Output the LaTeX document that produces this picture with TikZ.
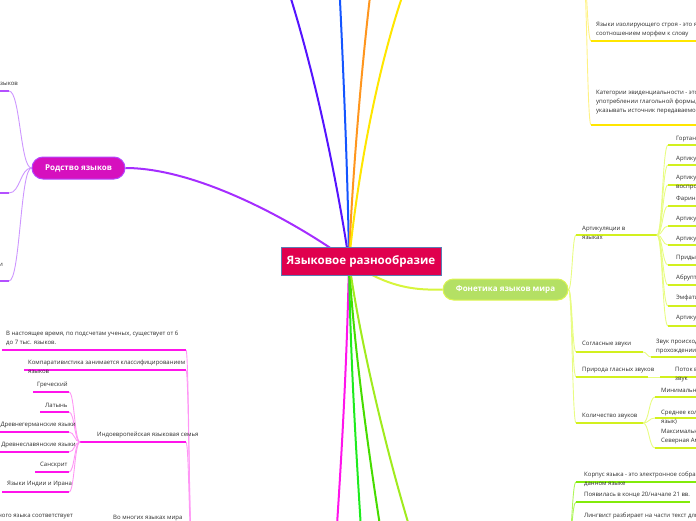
\documentclass[tikz,border=0pt]{standalone}
\usepackage{fontspec}
\setmainfont{Open Sans}
\usetikzlibrary{calc}
\pgfdeclarelayer{bg}
\pgfsetlayers{bg,main}
\definecolor{rootc}{RGB}{224,0,78}
\definecolor{rootb}{RGB}{90,125,180}
\definecolor{rodc}{RGB}{214,16,190}
\definecolor{rodb}{RGB}{180,70,255}
\definecolor{fonc}{RGB}{180,224,100}
\definecolor{fonb}{RGB}{220,245,80}
\definecolor{purpl}{RGB}{165,45,255}
\definecolor{indig}{RGB}{85,20,255}
\definecolor{bluel}{RGB}{20,85,255}
\definecolor{orng}{RGB}{255,150,30}
\definecolor{yell}{RGB}{255,230,0}
\definecolor{yellc}{RGB}{255,242,130}
\definecolor{magl}{RGB}{255,20,235}
\definecolor{magc}{RGB}{255,150,245}
\definecolor{grn1}{RGB}{30,235,30}
\definecolor{grn2}{RGB}{70,220,0}
\definecolor{lime}{RGB}{160,235,30}
\definecolor{limeul}{RGB}{130,235,10}
\definecolor{limec}{RGB}{175,245,90}
\definecolor{fonl}{RGB}{215,245,60}
\definecolor{fonul}{RGB}{210,240,30}
\definecolor{fonc2}{RGB}{232,252,130}
\definecolor{rodul}{RGB}{180,80,255}
\definecolor{rodcv}{RGB}{205,150,255}
\definecolor{txtc}{RGB}{45,45,45}
\begin{document}
\begin{tikzpicture}[x=1pt,y=-1pt,
  comb/.style={to path={.. controls ($(\tikztostart)!0.5!(\tikztostart -| \tikztotarget)$) and ($(\tikztotarget)!0.5!(\tikztotarget -| \tikztostart)$) .. (\tikztotarget)}},
  trunk/.style={line width=2pt},
  ul/.style={line width=1.6pt},
  cv/.style={line width=0.9pt, comb},
  tx/.style={font=\fontsize{6}{9}\selectfont, inner sep=0pt, align=left, text=txtc, anchor=west},
  txe/.style={tx, anchor=east},
  rootbox/.style={fill=rootc, draw=rootb, line width=0.8pt, text=white, font=\bfseries\fontsize{11.6}{13}\selectfont, minimum width=160pt, minimum height=28pt, inner sep=0pt},
  topicbox/.style={text=white, font=\bfseries\fontsize{8}{10}\selectfont, inner sep=0pt, line width=1pt}
]
\useasboundingbox (0,0) rectangle (696,520);

% main nodes
\node[rootbox] (root) at (361,261) {Языковое разнообразие};
\coordinate (hub) at (349,261);
\node[topicbox, fill=rodc, draw=rodb, minimum width=93pt, minimum height=22pt, rounded corners=11pt] (rod) at (78.5,168) {Родство языков};
\node[topicbox, fill=fonc, draw=fonb, minimum width=125pt, minimum height=21pt, rounded corners=10.5pt] (fon) at (505.5,289.5) {Фонетика языков мира};

% off-screen ends
\coordinate (tA) at (285,-20);
\coordinate (tB) at (339,-20);
\coordinate (tC) at (372,-20);
\coordinate (tD) at (408,-20);
\coordinate (bA) at (336,540);
\coordinate (bB) at (362,545);
\coordinate (bC) at (383,545);
\coordinate (bD) at (415,545);
\coordinate (ynode) at (583,-30);
\coordinate (magnode) at (192,545);
\coordinate (korp) at (568,545);

% ---------- yellow (top right)
\node[tx] (y1) at (596,29.5) {Языки изолирующего строя - это языки с минимальным\\соотношением морфем к слову};
\coordinate (y1L) at (591,41); \coordinate (y1R) at (700,41);
\node[tx] (y2) at (596,102) {Категории эвиденциальности - это грамматическая категория\\употреблении глагольной формы, которая позволяет\\указывать источник передаваемой информации};
\coordinate (y2L) at (591,125); \coordinate (y2R) at (700,125);

% ---------- Родство children
\node[txe] (r1) at (18,84) {Генеалогическая классификация языков};
\coordinate (r1L) at (-5,91); \coordinate (r1R) at (9,91);
\coordinate (r2L) at (-5,193); \coordinate (r2R) at (9,193);
\node[txe] (r3) at (3,265) {Макросемьи и языковые семьи};
\coordinate (r3L) at (-5,281); \coordinate (r3R) at (9,281);

% ---------- magenta subtree (left bottom)
\node[tx] (m1) at (6,338.5) {В настоящее время, по подсчетам ученых, существует от 6\\до 7 тыс. языков.};
\coordinate (m1L) at (2,350); \coordinate (m1R) at (186,350);
\node[tx] (m2) at (28,367) {Компаративистика занимается классифицированием\\языков};
\coordinate (m2L) at (24,370); \coordinate (m2R) at (186,370);
\node[tx] (ie) at (97,435) {Индоевропейская языковая семья};
\coordinate (ieL) at (80,442); \coordinate (ieR) at (186,442);
\node[tx] (g1) at (37,385) {Греческий};
\coordinate (g1L) at (33,392); \coordinate (g1R) at (69,392);
\node[tx] (g2) at (45,405) {Латынь};
\coordinate (g2L) at (40,412); \coordinate (g2R) at (69,412);
\node[txe] (g3) at (76,425) {Древнегерманские языки};
\coordinate (g3L) at (-5,432); \coordinate (g3R) at (69,432);
\node[txe] (g4) at (76,445) {Древнеславянские языки};
\coordinate (g4L) at (-5,452); \coordinate (g4R) at (69,452);
\node[tx] (g5) at (40,465) {Санскрит};
\coordinate (g5L) at (35,472); \coordinate (g5R) at (69,472);
\node[tx] (g6) at (7,484) {Языки Индии и Ирана};
\coordinate (g6L) at (2,492); \coordinate (g6R) at (69,492);
\node[txe] (m4) at (73,516) {Каждой букве письменного языка соответствует};
\coordinate (m4R) at (186,524);
\node[tx] (m5) at (113,518) {Во многих языках мира};

% ---------- Фонетика subtree
\node[tx] (art) at (582,233) {Артикуляции в\\языках};
\coordinate (artL) at (576,235); \coordinate (artR) at (657,235);
\node[tx] (a1) at (676,139) {Гортанная смычка};
\node[tx] (a2) at (676,159) {Артикуляция губ};
\node[tx] (a3) at (676,183) {Артикуляция языка,\\воспроизводящая};
\node[tx] (a4) at (676,199) {Фарингализация};
\node[tx] (a5) at (676,219) {Артикуляция корня языка};
\node[tx] (a6) at (676,239) {Артикуляция кончиком языка};
\node[tx] (a7) at (676,258) {Придыхание};
\node[tx] (a8) at (676,278) {Абруптивы};
\node[tx] (a9) at (676,298) {Эмфатические согласные};
\node[tx] (a10) at (676,318) {Артикуляция щелчков};
\foreach \i/\yy in {1/145,2/165,3/185,4/206,5/226,6/245,7/265,8/285,9/306,10/326}{
  \coordinate (a\i L) at (668,\yy); \coordinate (a\i R) at (700,\yy);
}
\node[tx] (sog) at (582,344) {Согласные звуки};
\coordinate (sogL) at (576,352); \coordinate (sogR) at (643,352);
\node[tx] (sogc) at (656,346.5) {Звук происходит при\\прохождении воздуха};
\coordinate (sogcL) at (651,357); \coordinate (sogcR) at (700,357);
\node[tx] (pri) at (582,370) {Природа гласных звуков};
\coordinate (priL) at (576,377); \coordinate (priR) at (648,377);
\node[tx] (pric) at (675,374.5) {Поток воздуха создает\\звук};
\coordinate (pricL) at (660,377); \coordinate (pricR) at (700,377);
\node[tx] (kol) at (582,416) {Количество звуков};
\coordinate (kolL) at (576,423); \coordinate (kolR) at (643,423);
\node[tx] (k1) at (661,391) {Минимальное количество звуков};
\coordinate (k1L) at (655,397); \coordinate (k1R) at (700,397);
\node[tx] (k2) at (661,417) {Среднее количество звуков (русский\\язык)};
\coordinate (k2L) at (655,418); \coordinate (k2R) at (700,418);
\node[tx] (k3) at (661,436.5) {Максимальное количество звуков -\\Северная Америка};
\coordinate (k3L) at (655,448); \coordinate (k3R) at (700,448);

% ---------- green bottom right
\node[tx] (c1) at (584,479.5) {Корпус языка - это электронное собрание текстов на\\данном языке};
\coordinate (c1L) at (576,482); \coordinate (c1R) at (700,482);
\node[tx] (c2) at (584,495) {Появилась в конце 20/начале 21 вв.};
\coordinate (c2L) at (576,502); \coordinate (c2R) at (690,502);
\node[tx] (c3) at (584,516) {Лингвист разбирает на части текст для анализа};
\coordinate (c3L) at (576,522); \coordinate (c3R) at (700,522);

\begin{pgfonlayer}{bg}
% trunks
\draw[trunk, purpl] (hub) .. controls (300,225) and (200,168) .. (rod.east);
\draw[trunk, indig] (hub) .. controls (340,200) and (318,80) .. (tA);
\draw[trunk, bluel] (hub) .. controls (348,180) and (343,60) .. (tB);
\draw[trunk, orng] (hub) .. controls (352,180) and (362,60) .. (tC);
\draw[trunk, yell] (hub) .. controls (356,190) and (375,70) .. (tD);
\draw[trunk, magl] (hub) .. controls (347,360) and (342,450) .. (bA);
\draw[trunk, grn1] (hub) .. controls (350,350) and (356,450) .. (bB);
\draw[trunk, grn2] (hub) .. controls (353,340) and (368,450) .. (bC);
\draw[trunk, lime] (hub) .. controls (358,330) and (385,450) .. (bD);
\draw[trunk, fonl] (hub) .. controls (390,290) and (420,290) .. (fon.west);

% yellow
\draw[cv, yellc] (ynode) to (y1L);
\draw[cv, yellc] (ynode) to (y2L);
\draw[ul, yell] (y1L) -- (y1R);
\draw[ul, yell] (y2L) -- (y2R);

% rod
\foreach \n in {r1,r2,r3}{
  \draw[cv, rodcv] (rod.west) to (\n R);
  \draw[ul, rodul] (\n L) -- (\n R);
}

% magenta
\foreach \n in {m1,m2,ie}{
  \draw[cv, magc] (magnode) to (\n R);
  \draw[ul, magl] (\n L) -- (\n R);
}
\draw[cv, magc] (magnode) to (m4R);
\foreach \n in {g1,g2,g3,g4,g5,g6}{
  \draw[cv, magc] (ieL) to (\n R);
  \draw[ul, magl] (\n L) -- (\n R);
}

% fonetika
\foreach \n in {art,sog,pri,kol}{
  \draw[cv, fonc2] (fon.east) to (\n L);
  \draw[ul, fonul] (\n L) -- (\n R);
}
\foreach \i in {1,...,10}{
  \draw[cv, fonc2] (artR) to (a\i L);
  \draw[ul, fonul] (a\i L) -- (a\i R);
}
\draw[cv, fonc2] (sogR) to (sogcL);
\draw[ul, fonul] (sogcL) -- (sogcR);
\draw[cv, fonc2] (priR) to (pricL);
\draw[ul, fonul] (pricL) -- (pricR);
\foreach \n in {k1,k2,k3}{
  \draw[cv, fonc2] (kolR) to (\n L);
  \draw[ul, fonul] (\n L) -- (\n R);
}

% green
\foreach \n in {c1,c2,c3}{
  \draw[cv, limec] (korp) to (\n L);
  \draw[ul, limeul] (\n L) -- (\n R);
}
\end{pgfonlayer}
\end{tikzpicture}
\end{document}
